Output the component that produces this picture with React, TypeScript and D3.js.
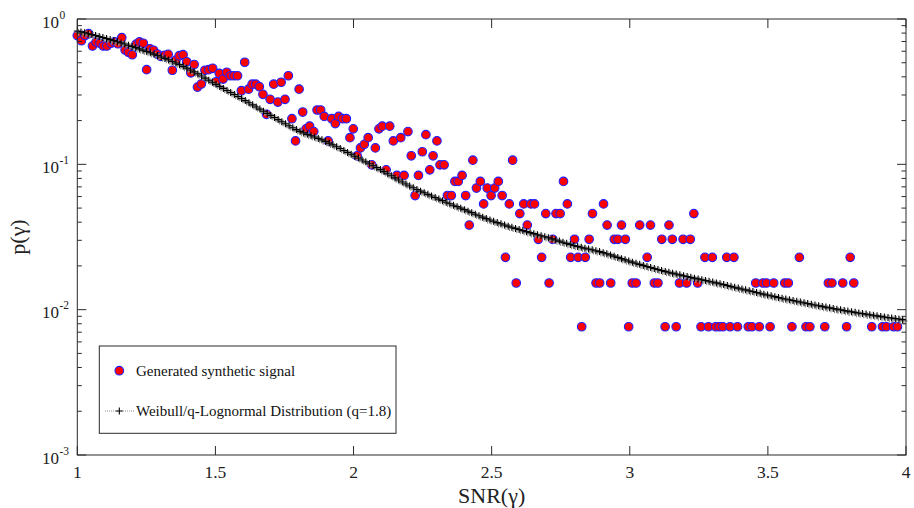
import React, { useEffect, useRef } from 'react';
import * as d3 from 'd3';

// Generated synthetic signal (histogram estimate)
const snrValues = [
  1.000, 1.015, 1.028, 1.041, 1.055, 1.068, 1.082, 1.094, 1.107, 1.122,
  1.135, 1.147, 1.161, 1.173, 1.185, 1.199, 1.213, 1.225, 1.239, 1.251,
  1.263, 1.276, 1.290, 1.302, 1.316, 1.329, 1.344, 1.357, 1.369, 1.383,
  1.396, 1.411, 1.423, 1.435, 1.449, 1.462, 1.476, 1.490, 1.502, 1.514,
  1.528, 1.541, 1.554, 1.567, 1.580, 1.594, 1.606, 1.620, 1.633, 1.646,
  1.659, 1.672, 1.685, 1.698, 1.711, 1.726, 1.738, 1.752, 1.764, 1.777,
  1.790, 1.803, 1.816, 1.828, 1.841, 1.856, 1.868, 1.881, 1.894, 1.908,
  1.921, 1.934, 1.946, 1.960, 1.974, 1.987, 1.999, 2.013, 2.025, 2.039,
  2.053, 2.066, 2.079, 2.092, 2.104, 2.118, 2.131, 2.144, 2.157, 2.171,
  2.183, 2.197, 2.209, 2.223, 2.235, 2.249, 2.262, 2.276, 2.288, 2.302,
  2.313, 2.328, 2.340, 2.354, 2.367, 2.379, 2.393, 2.406, 2.419, 2.432,
  2.445, 2.459, 2.471, 2.484, 2.498, 2.511, 2.524, 2.538, 2.550, 2.564,
  2.576, 2.589, 2.602, 2.616, 2.629, 2.642, 2.655, 2.669, 2.681, 2.696,
  2.708, 2.721, 2.733, 2.748, 2.760, 2.774, 2.786, 2.800, 2.813, 2.826,
  2.839, 2.853, 2.865, 2.878, 2.891, 2.905, 2.918, 2.931, 2.944, 2.957,
  2.970, 2.984, 2.996, 3.009, 3.023, 3.036, 3.063, 3.075, 3.089, 3.102,
  3.116, 3.128, 3.142, 3.154, 3.168, 3.180, 3.193, 3.206, 3.219, 3.232,
  3.246, 3.258, 3.272, 3.285, 3.299, 3.311, 3.324, 3.337, 3.351, 3.363,
  3.377, 3.390, 3.429, 3.442, 3.456, 3.469, 3.482, 3.495, 3.508, 3.521,
  3.561, 3.574, 3.587, 3.614, 3.638, 3.652, 3.706, 3.719, 3.732, 3.771,
  3.785, 3.798, 3.811, 3.876, 3.915, 3.929, 3.955, 3.969,
];

const pdfValues = [
  0.769, 0.709, 0.770, 0.792, 0.652, 0.695, 0.681, 0.652, 0.652, 0.681,
  0.695, 0.676, 0.744, 0.612, 0.591, 0.568, 0.671, 0.695, 0.681, 0.448,
  0.624, 0.609, 0.574, 0.554, 0.563, 0.571, 0.444, 0.522, 0.559, 0.568,
  0.508, 0.426, 0.486, 0.340, 0.357, 0.444, 0.448, 0.458, 0.370, 0.422,
  0.386, 0.430, 0.407, 0.407, 0.407, 0.321, 0.504, 0.329, 0.356, 0.356,
  0.342, 0.303, 0.221, 0.280, 0.356, 0.268, 0.367, 0.280, 0.407, 0.206,
  0.145, 0.329, 0.229, 0.1755, 0.1831, 0.168, 0.2365, 0.2365, 0.2136, 0.145,
  0.206, 0.1908, 0.2136, 0.206, 0.206, 0.1526, 0.1755, 0.1145, 0.1297, 0.1373,
  0.1526, 0.0992, 0.1297, 0.1755, 0.1831, 0.0916, 0.1831, 0.145, 0.0839, 0.1526,
  0.0839, 0.168, 0.1145, 0.061, 0.0839, 0.1221, 0.160, 0.0916, 0.1145, 0.145,
  0.0992, 0.0992, 0.061, 0.061, 0.0763, 0.0763, 0.0839, 0.061, 0.0382, 0.1068,
  0.0687, 0.0763, 0.0534, 0.0687, 0.061, 0.0687, 0.0763, 0.061, 0.0229, 0.0534,
  0.1068, 0.01526, 0.0458, 0.0534, 0.0382, 0.0534, 0.0534, 0.0305, 0.0229, 0.0458,
  0.01526, 0.0305, 0.0458, 0.0458, 0.0763, 0.0534, 0.0229, 0.0305, 0.0229, 0.00763,
  0.0229, 0.0305, 0.0458, 0.01526, 0.01526, 0.0534, 0.0382, 0.01526, 0.0305, 0.0305,
  0.0382, 0.0305, 0.00763, 0.01526, 0.01526, 0.0382, 0.0229, 0.0382, 0.01526, 0.01526,
  0.0305, 0.00763, 0.0382, 0.0305, 0.00763, 0.01526, 0.0305, 0.01526, 0.0305, 0.0458,
  0.01526, 0.00763, 0.0229, 0.00763, 0.0229, 0.00763, 0.00763, 0.00763, 0.0229, 0.00763,
  0.0229, 0.00763, 0.00763, 0.00763, 0.01526, 0.00763, 0.01526, 0.01526, 0.00763, 0.01526,
  0.01526, 0.01526, 0.00763, 0.0229, 0.00763, 0.00763, 0.00763, 0.01526, 0.01526, 0.01526,
  0.00763, 0.0229, 0.01526, 0.00763, 0.00763, 0.00763, 0.00763, 0.00763,
];

// Weibull/q-Lognormal fit, read at SNR = 1.0, 1.1, ..., 4.0
const fitSnr = [
  1.0, 1.1, 1.2, 1.3, 1.4, 1.5, 1.6, 1.7, 1.8, 1.9, 2.0,
  2.1, 2.2, 2.3, 2.4, 2.5, 2.6, 2.7, 2.8, 2.9, 3.0,
  3.1, 3.2, 3.3, 3.4, 3.5, 3.6, 3.7, 3.8, 3.9, 4.0,
];
const fitPdf = [
  0.827, 0.739, 0.646, 0.552, 0.456, 0.357, 0.280, 0.2174, 0.1709, 0.1435, 0.1150,
  0.0914, 0.0715, 0.0586, 0.0489, 0.0410, 0.0356, 0.03145, 0.0276, 0.0248, 0.0215,
  0.01894, 0.01703, 0.01549, 0.01397, 0.0126, 0.01146, 0.0105, 0.0097, 0.00904, 0.00848,
];
const fitMarkerStep = 0.01322;

const xTicks = [1, 1.5, 2, 2.5, 3, 3.5, 4];
const yDecades = [-3, -2, -1, 0];
const legendLabels = [
  'Generated synthetic signal',
  'Weibull/q-Lognormal Distribution (q=1.8)',
];
const xTitle = 'SNR(γ)';
const yTitle = 'p(γ)';

export default function App() {
  const ref = useRef<SVGSVGElement>(null);

  useEffect(() => {
    const W = 914, H = 508;
    const m = { left: 77.3, right: 906, top: 19, bottom: 455 };
    const font = "'Liberation Serif', 'Times New Roman', serif";
    const axisColor = '#2a2a2a';
    const svg = d3.select(ref.current);
    svg.selectAll('*').remove();
    svg.attr('width', W).attr('height', H);

    const x = d3.scaleLinear().domain([1, 4]).range([m.left, m.right]);
    const y = d3.scaleLog().domain([1e-3, 1]).range([m.bottom, m.top]);

    svg.append('rect').attr('width', W).attr('height', H).attr('fill', '#fff');

    const clipId = 'plotclip';
    svg.append('clipPath').attr('id', clipId)
      .append('rect')
      .attr('x', m.left - 6).attr('y', m.top - 6)
      .attr('width', m.right - m.left + 12).attr('height', m.bottom - m.top + 12);

    const plot = svg.append('g').attr('clip-path', `url(#${clipId})`);

    // scatter
    const pts = snrValues.map((s, i) => [s, pdfValues[i]] as [number, number]);
    plot.append('g').selectAll('circle').data(pts).join('circle')
      .attr('cx', d => x(d[0])).attr('cy', d => y(d[1]))
      .attr('r', 4.3)
      .attr('fill', '#ff0000')
      .attr('stroke', '#1f1fff')
      .attr('stroke-width', 1.1);

    // fit line
    const fitData = fitSnr.map((s, i) => [s, fitPdf[i]] as [number, number]);
    const line = d3.line<[number, number]>()
      .x(d => x(d[0])).y(d => y(d[1]))
      .curve(d3.curveMonotoneX);
    const path = plot.append('path')
      .attr('d', line(fitData) as string)
      .attr('fill', 'none')
      .attr('stroke', '#555')
      .attr('stroke-width', 0.8)
      .attr('stroke-dasharray', '1,1.5');
    const node = path.node() as SVGPathElement;
    const total = node.getTotalLength();
    const markerXs = d3.range(fitSnr[0], fitSnr[fitSnr.length - 1] + 1e-9, fitMarkerStep);
    const markers = markerXs.map(v => {
      const tx = x(v);
      let lo = 0, hi = total;
      for (let k = 0; k < 28; k++) {
        const mid = (lo + hi) / 2;
        if (node.getPointAtLength(mid).x < tx) lo = mid; else hi = mid;
      }
      const p = node.getPointAtLength((lo + hi) / 2);
      return [p.x, p.y];
    });
    const plus = 'M-3.5,0H3.5M0,-3.5V3.5';
    plot.append('g').selectAll('path').data(markers).join('path')
      .attr('d', plus)
      .attr('transform', d => `translate(${d[0] + 1.3},${d[1] + 1.3})`)
      .attr('stroke', '#8a8a8a').attr('stroke-width', 1.1).attr('fill', 'none');
    plot.append('g').selectAll('path').data(markers).join('path')
      .attr('d', plus)
      .attr('transform', d => `translate(${d[0]},${d[1]})`)
      .attr('stroke', '#000').attr('stroke-width', 1.1).attr('fill', 'none');

    // frame
    svg.append('rect')
      .attr('x', m.left).attr('y', m.top)
      .attr('width', m.right - m.left).attr('height', m.bottom - m.top)
      .attr('fill', 'none').attr('stroke', axisColor).attr('stroke-width', 1);

    const ticks = svg.append('g').attr('stroke', axisColor).attr('stroke-width', 1);
    const majorLen = 9, minorLen = 4.5;
    xTicks.forEach(t => {
      const px = x(t);
      ticks.append('line').attr('x1', px).attr('x2', px).attr('y1', m.bottom).attr('y2', m.bottom - majorLen);
      ticks.append('line').attr('x1', px).attr('x2', px).attr('y1', m.top).attr('y2', m.top + majorLen);
    });
    yDecades.forEach(e => {
      const base = Math.pow(10, e);
      const py = y(base);
      ticks.append('line').attr('x1', m.left).attr('x2', m.left + majorLen).attr('y1', py).attr('y2', py);
      ticks.append('line').attr('x1', m.right).attr('x2', m.right - majorLen).attr('y1', py).attr('y2', py);
      if (e < 0) {
        for (let k = 2; k <= 9; k++) {
          const my = y(base * k);
          ticks.append('line').attr('x1', m.left).attr('x2', m.left + minorLen).attr('y1', my).attr('y2', my);
          ticks.append('line').attr('x1', m.right).attr('x2', m.right - minorLen).attr('y1', my).attr('y2', my);
        }
      }
    });

    // x tick labels
    svg.append('g').selectAll('text').data(xTicks).join('text')
      .attr('x', d => x(d)).attr('y', m.bottom + 22.5)
      .attr('text-anchor', 'middle')
      .attr('font-family', font).attr('font-size', 17.5).attr('fill', '#222')
      .text(d => String(d));

    // y tick labels
    const yl = svg.append('g').attr('font-family', font).attr('fill', '#222');
    yDecades.forEach(e => {
      const py = y(Math.pow(10, e));
      yl.append('text').attr('x', 59).attr('y', py + 8.5)
        .attr('text-anchor', 'end').attr('font-size', 17).text('10');
      yl.append('text').attr('x', 59.5).attr('y', py - 0.5)
        .attr('font-size', 11.5).text(e === 0 ? '0' : `-${-e}`);
    });

    // axis titles
    svg.append('text')
      .attr('x', (m.left + m.right) / 2).attr('y', 503)
      .attr('text-anchor', 'middle')
      .attr('font-family', font).attr('font-size', 22).attr('fill', '#222')
      .text(xTitle);
    svg.append('text')
      .attr('transform', `translate(25,${(m.top + m.bottom) / 2}) rotate(-90)`)
      .attr('text-anchor', 'middle')
      .attr('font-family', font).attr('font-size', 22).attr('fill', '#222')
      .text(yTitle);

    // legend
    const lg = svg.append('g');
    lg.append('rect')
      .attr('x', 99.3).attr('y', 346).attr('width', 296.7).attr('height', 87.3)
      .attr('fill', '#fff').attr('stroke', axisColor).attr('stroke-width', 1);
    lg.append('circle').attr('cx', 119.3).attr('cy', 370.7).attr('r', 4.3)
      .attr('fill', '#ff0000').attr('stroke', '#1f1fff').attr('stroke-width', 1.1);
    lg.append('line').attr('x1', 105).attr('x2', 135).attr('y1', 411).attr('y2', 411)
      .attr('stroke', '#777').attr('stroke-width', 0.8).attr('stroke-dasharray', '1,1');
    lg.append('path').attr('d', plus).attr('transform', 'translate(119.3,411)')
      .attr('stroke', '#000').attr('stroke-width', 1.1);
    lg.selectAll('text.lab').data(legendLabels).join('text')
      .attr('class', 'lab')
      .attr('x', 136).attr('y', (d, i) => (i === 0 ? 375.7 : 416))
      .attr('font-family', font).attr('font-size', 15).attr('fill', '#111')
      .text(d => d);
  }, []);

  return (
    <svg ref={ref} width={914} height={508}
      style={{ position: 'absolute', left: 0, top: 0, display: 'block' }} />
  );
}
